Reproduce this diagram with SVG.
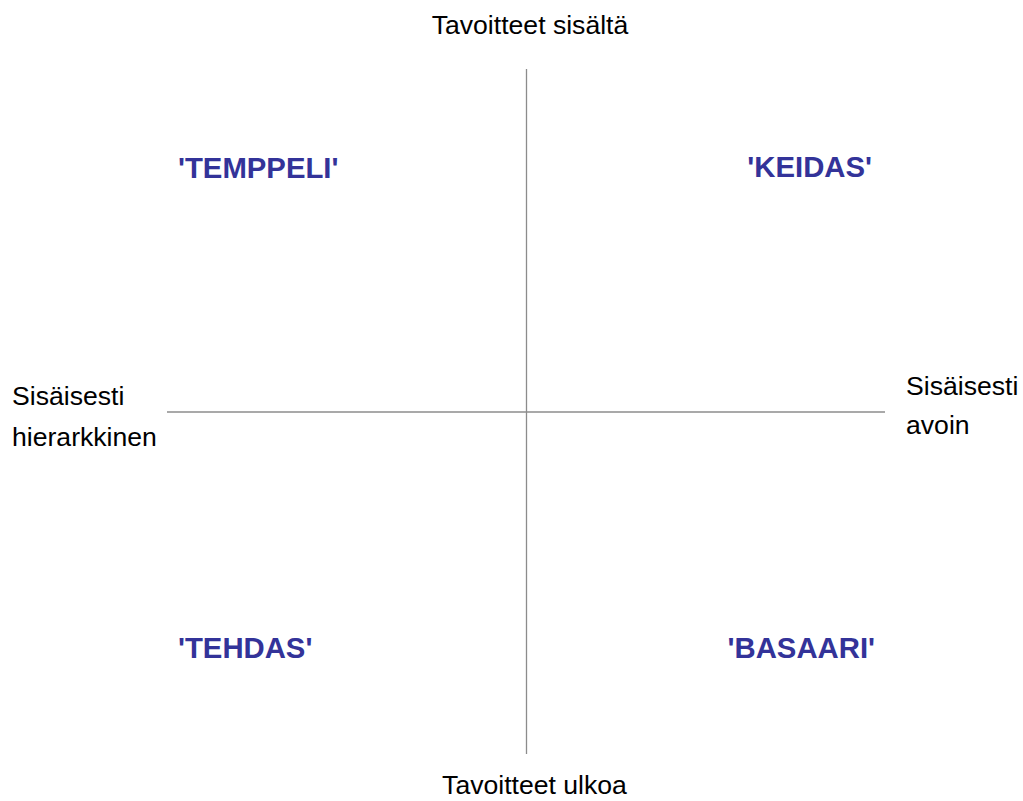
<svg xmlns="http://www.w3.org/2000/svg" width="1023" height="801" viewBox="0 0 1023 801">
<style>
.ax{stroke:#8c8c8c;stroke-width:1.3;fill:none}
.lbl{font-family:"Liberation Sans",Arial,sans-serif;font-size:26.6px;fill:#000}
.q{font-family:"Liberation Sans",Arial,sans-serif;font-size:29.3px;font-weight:bold;fill:#333399}
</style>
<rect width="1023" height="801" fill="#fff"/>
<g id="connectors">
<line class="ax" x1="526.5" y1="69" x2="526.5" y2="754"/>
<line class="ax" x1="167" y1="412" x2="885" y2="412"/>
</g>
<g id="top"><text class="lbl" x="530" y="34" text-anchor="middle">Tavoitteet sisältä</text></g>
<g id="bottom"><text class="lbl" x="534.5" y="794" text-anchor="middle">Tavoitteet ulkoa</text></g>
<g id="left"><text class="lbl" x="12" y="405">Sisäisesti</text><text class="lbl" x="12" y="446">hierarkkinen</text></g>
<g id="right"><text class="lbl" x="906" y="395">Sisäisesti</text><text class="lbl" x="906" y="434">avoin</text></g>
<g id="temppeli"><text class="q" x="178" y="178">'TEMPPELI'</text></g>
<g id="keidas"><text class="q" x="872" y="177" text-anchor="end">'KEIDAS'</text></g>
<g id="tehdas"><text class="q" x="178" y="658">'TEHDAS'</text></g>
<g id="basaari"><text class="q" x="875" y="658" text-anchor="end">'BASAARI'</text></g>
</svg>
